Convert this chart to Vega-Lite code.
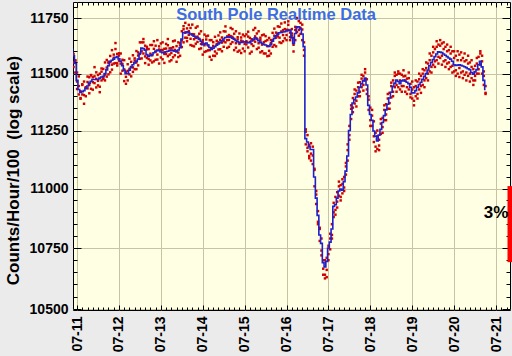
{
"$schema":"https://vega.github.io/schema/vega-lite/v6.json",
"width":437,"height":308,
"autosize":"none",
"padding":{"left":73,"top":2,"right":2,"bottom":46},
"background":"#ebebeb",
"config":{"font":"Liberation Sans","view":{"fill":"#ffffe3","stroke":"#000000","strokeWidth":1},
 "axis":{"domain":false,"grid":false,"tickColor":"#000000","labelColor":"#000000","titleColor":"#000000","labelFont":"Liberation Sans","labelFontWeight":"bold","labelFontSize":14,"titleFont":"Liberation Sans"}},
"data":{"values":[
{"h":-3,"v":11610,"a":11632,"b":11592,"e":11660},
{"h":-2,"v":11580,"a":11550,"b":11588,"e":11530},
{"h":-1,"v":11545,"a":11557,"b":11505,"e":11560},
{"h":0,"v":11470,"a":11505,"b":11465,"e":11432},
{"h":1,"v":11430,"a":11408,"b":11445,"e":11488},
{"h":2,"v":11417,"a":11422,"b":11389,"e":11392},
{"h":3,"v":11420,"a":11408,"b":11450,"e":11453},
{"h":4,"v":11425,"a":11465,"b":11405,"e":11367},
{"h":5,"v":11435,"a":11400,"b":11437,"e":11440},
{"h":6,"v":11445,"a":11463,"b":11435,"e":11487},
{"h":7,"v":11458,"a":11450,"b":11484,"e":11413},
{"h":8,"v":11466,"a":11494,"b":11433,"e":11493},
{"h":9,"v":11474,"a":11429,"b":11484,"e":11462},
{"h":10,"v":11474,"a":11488,"b":11458,"e":11529},
{"h":11,"v":11474,"a":11477,"b":11506,"e":11439},
{"h":12,"v":11474,"a":11448,"b":11468,"e":11494},
{"h":13,"v":11480,"a":11500,"b":11442,"e":11418},
{"h":14,"v":11485,"a":11470,"b":11509,"e":11523},
{"h":15,"v":11488,"a":11521,"b":11476,"e":11480},
{"h":16,"v":11500,"a":11496,"b":11470,"e":11550},
{"h":17,"v":11517,"a":11527,"b":11561,"e":11487},
{"h":18,"v":11535,"a":11497,"b":11553,"e":11547},
{"h":19,"v":11554,"a":11579,"b":11552,"e":11506},
{"h":20,"v":11560,"a":11540,"b":11518,"e":11605},
{"h":21,"v":11565,"a":11571,"b":11585,"e":11545},
{"h":22,"v":11572,"a":11610,"b":11547,"e":11637},
{"h":23,"v":11576,"a":11546,"b":11588,"e":11536},
{"h":24,"v":11566,"a":11581,"b":11558,"e":11591},
{"h":25,"v":11555,"a":11545,"b":11590,"e":11500},
{"h":26,"v":11535,"a":11562,"b":11513,"e":11543},
{"h":27,"v":11515,"a":11467,"b":11519,"e":11560},
{"h":28,"v":11500,"a":11508,"b":11486,"e":11455},
{"h":29,"v":11500,"a":11542,"b":11470,"e":11512},
{"h":30,"v":11515,"a":11497,"b":11521,"e":11567},
{"h":31,"v":11528,"a":11530,"b":11553,"e":11488},
{"h":32,"v":11540,"a":11508,"b":11528,"e":11582},
{"h":33,"v":11548,"a":11568,"b":11558,"e":11520},
{"h":34,"v":11556,"a":11550,"b":11520,"e":11601},
{"h":35,"v":11565,"a":11595,"b":11581,"e":11537},
{"h":36,"v":11590,"a":11566,"b":11588,"e":11640},
{"h":37,"v":11614,"a":11640,"b":11600,"e":11568},
{"h":38,"v":11612,"a":11590,"b":11640,"e":11655},
{"h":39,"v":11605,"a":11625,"b":11577,"e":11547},
{"h":40,"v":11585,"a":11570,"b":11609,"e":11620},
{"h":41,"v":11577,"a":11610,"b":11565,"e":11540},
{"h":42,"v":11581,"a":11589,"b":11559,"e":11628},
{"h":43,"v":11585,"a":11582,"b":11628,"e":11550},
{"h":44,"v":11593,"a":11555,"b":11611,"e":11645},
{"h":45,"v":11600,"a":11625,"b":11598,"e":11562},
{"h":46,"v":11605,"a":11585,"b":11563,"e":11650},
{"h":47,"v":11602,"a":11608,"b":11622,"e":11545},
{"h":48,"v":11597,"a":11635,"b":11572,"e":11605},
{"h":49,"v":11594,"a":11564,"b":11606,"e":11640},
{"h":50,"v":11596,"a":11611,"b":11588,"e":11548},
{"h":51,"v":11598,"a":11588,"b":11633,"e":11612},
{"h":52,"v":11600,"a":11627,"b":11578,"e":11655},
{"h":53,"v":11603,"a":11555,"b":11613,"e":11585},
{"h":54,"v":11606,"a":11614,"b":11592,"e":11560},
{"h":55,"v":11603,"a":11645,"b":11573,"e":11618},
{"h":56,"v":11600,"a":11582,"b":11606,"e":11648},
{"h":57,"v":11598,"a":11600,"b":11623,"e":11553},
{"h":58,"v":11606,"a":11574,"b":11594,"e":11640},
{"h":59,"v":11616,"a":11636,"b":11626,"e":11580},
{"h":60,"v":11655,"a":11649,"b":11619,"e":11690},
{"h":61,"v":11683,"a":11713,"b":11699,"e":11640},
{"h":62,"v":11685,"a":11661,"b":11683,"e":11728},
{"h":63,"v":11688,"a":11703,"b":11660,"e":11645},
{"h":64,"v":11684,"a":11674,"b":11719,"e":11690},
{"h":65,"v":11678,"a":11705,"b":11656,"e":11628},
{"h":66,"v":11673,"a":11625,"b":11677,"e":11720},
{"h":67,"v":11668,"a":11676,"b":11654,"e":11622},
{"h":68,"v":11664,"a":11706,"b":11634,"e":11660},
{"h":69,"v":11660,"a":11642,"b":11666,"e":11712},
{"h":70,"v":11654,"a":11656,"b":11679,"e":11610},
{"h":71,"v":11645,"a":11613,"b":11633,"e":11690},
{"h":72,"v":11630,"a":11650,"b":11640,"e":11585},
{"h":73,"v":11633,"a":11627,"b":11597,"e":11675},
{"h":74,"v":11637,"a":11667,"b":11653,"e":11600},
{"h":75,"v":11628,"a":11604,"b":11626,"e":11670},
{"h":76,"v":11617,"a":11650,"b":11605,"e":11575},
{"h":77,"v":11608,"a":11562,"b":11614,"e":11650},
{"h":78,"v":11614,"a":11624,"b":11641,"e":11580},
{"h":79,"v":11621,"a":11599,"b":11579,"e":11665},
{"h":80,"v":11627,"a":11633,"b":11647,"e":11590},
{"h":81,"v":11633,"a":11671,"b":11608,"e":11640},
{"h":82,"v":11639,"a":11609,"b":11651,"e":11685},
{"h":83,"v":11647,"a":11662,"b":11639,"e":11600},
{"h":84,"v":11655,"a":11645,"b":11690,"e":11620},
{"h":85,"v":11662,"a":11689,"b":11640,"e":11712},
{"h":86,"v":11663,"a":11615,"b":11667,"e":11650},
{"h":87,"v":11665,"a":11673,"b":11651,"e":11620},
{"h":88,"v":11663,"a":11705,"b":11633,"e":11668},
{"h":89,"v":11659,"a":11641,"b":11665,"e":11700},
{"h":90,"v":11654,"a":11656,"b":11679,"e":11605},
{"h":91,"v":11648,"a":11616,"b":11636,"e":11690},
{"h":92,"v":11643,"a":11663,"b":11653,"e":11598},
{"h":93,"v":11639,"a":11633,"b":11603,"e":11680},
{"h":94,"v":11640,"a":11662,"b":11648,"e":11592},
{"h":95,"v":11642,"a":11612,"b":11644,"e":11675},
{"h":96,"v":11643,"a":11668,"b":11633,"e":11600},
{"h":97,"v":11641,"a":11631,"b":11676,"e":11645},
{"h":98,"v":11639,"a":11666,"b":11617,"e":11688},
{"h":99,"v":11638,"a":11590,"b":11642,"e":11660},
{"h":100,"v":11646,"a":11654,"b":11632,"e":11598},
{"h":101,"v":11654,"a":11696,"b":11624,"e":11650},
{"h":102,"v":11661,"a":11643,"b":11667,"e":11705},
{"h":103,"v":11655,"a":11657,"b":11680,"e":11610},
{"h":104,"v":11648,"a":11616,"b":11636,"e":11690},
{"h":105,"v":11641,"a":11661,"b":11651,"e":11595},
{"h":106,"v":11636,"a":11630,"b":11600,"e":11672},
{"h":107,"v":11631,"a":11641,"b":11675,"e":11590},
{"h":108,"v":11628,"a":11590,"b":11646,"e":11668},
{"h":109,"v":11625,"a":11650,"b":11623,"e":11578},
{"h":110,"v":11622,"a":11602,"b":11580,"e":11660},
{"h":111,"v":11630,"a":11636,"b":11650,"e":11590},
{"h":112,"v":11645,"a":11683,"b":11620,"e":11650},
{"h":113,"v":11658,"a":11628,"b":11670,"e":11702},
{"h":114,"v":11669,"a":11684,"b":11661,"e":11622},
{"h":115,"v":11677,"a":11667,"b":11712,"e":11680},
{"h":116,"v":11683,"a":11710,"b":11661,"e":11640},
{"h":117,"v":11685,"a":11637,"b":11689,"e":11725},
{"h":118,"v":11687,"a":11695,"b":11673,"e":11645},
{"h":119,"v":11688,"a":11730,"b":11658,"e":11700},
{"h":120,"v":11691,"a":11673,"b":11697,"e":11650},
{"h":121,"v":11694,"a":11696,"b":11719,"e":11735},
{"h":122,"v":11696,"a":11664,"b":11684,"e":11650},
{"h":123,"v":11660,"a":11680,"b":11670,"e":11700},
{"h":124,"v":11635,"a":11629,"b":11599,"e":11660},
{"h":125,"v":11680,"a":11710,"b":11696,"e":11650},
{"h":126,"v":11710,"a":11686,"b":11708,"e":11750},
{"h":127,"v":11710,"a":11736,"b":11696,"e":11670},
{"h":128,"v":11700,"a":11678,"b":11728,"e":11705},
{"h":129,"v":11678,"a":11698,"b":11650,"e":11720},
{"h":130,"v":11621,"a":11606,"b":11640,"e":11580},
{"h":131,"v":11215,"a":11190,"b":11245,"e":11255},
{"h":132,"v":11200,"a":11175,"b":11160,"e":11230},
{"h":133,"v":11180,"a":11140,"b":11188,"e":11130},
{"h":134,"v":11168,"a":11150,"b":11120,"e":11195},
{"h":135,"v":11168,"a":11142,"b":11180,"e":11105},
{"h":136,"v":11050,"a":11010,"b":11085,"e":11080},
{"h":137,"v":10960,"a":10935,"b":10975,"e":10990},
{"h":138,"v":10887,"a":10860,"b":10905,"e":10850},
{"h":139,"v":10805,"a":10780,"b":10830,"e":10835},
{"h":140,"v":10770,"a":10740,"b":10720,"e":10790},
{"h":141,"v":10690,"a":10665,"b":10700,"e":10640},
{"h":142,"v":10672,"a":10640,"b":10625,"e":10700},
{"h":143,"v":10695,"a":10660,"b":10710,"e":10630},
{"h":144,"v":10750,"a":10725,"b":10760,"e":10700},
{"h":145,"v":10775,"a":10790,"b":10745,"e":10810},
{"h":146,"v":10830,"a":10805,"b":10850,"e":10790},
{"h":147,"v":10925,"a":10900,"b":10940,"e":10880},
{"h":148,"v":10932,"a":10910,"b":10890,"e":10965},
{"h":149,"v":10960,"a":10985,"b":10945,"e":10920},
{"h":150,"v":10990,"a":10970,"b":11010,"e":11030},
{"h":151,"v":10998,"a":10965,"b":11015,"e":10950},
{"h":152,"v":10993,"a":11020,"b":10980,"e":11040},
{"h":153,"v":11030,"a":11050,"b":11005,"e":10990},
{"h":154,"v":11075,"a":11095,"b":11060,"e":11110},
{"h":155,"v":11140,"a":11120,"b":11165,"e":11190},
{"h":156,"v":11250,"a":11230,"b":11270,"e":11210},
{"h":157,"v":11320,"a":11345,"b":11300,"e":11360},
{"h":158,"v":11370,"a":11350,"b":11392,"e":11330},
{"h":159,"v":11385,"a":11410,"b":11368,"e":11430},
{"h":160,"v":11397,"a":11380,"b":11425,"e":11355},
{"h":161,"v":11415,"a":11440,"b":11400,"e":11460},
{"h":162,"v":11440,"a":11420,"b":11462,"e":11400},
{"h":163,"v":11455,"a":11478,"b":11440,"e":11495},
{"h":164,"v":11468,"a":11450,"b":11490,"e":11425},
{"h":165,"v":11480,"a":11505,"b":11470,"e":11520},
{"h":166,"v":11450,"a":11475,"b":11430,"e":11410},
{"h":167,"v":11360,"a":11385,"b":11340,"e":11400},
{"h":168,"v":11320,"a":11295,"b":11350,"e":11270},
{"h":169,"v":11295,"a":11270,"b":11315,"e":11340},
{"h":170,"v":11248,"a":11225,"b":11200,"e":11290},
{"h":171,"v":11225,"a":11180,"b":11240,"e":11160},
{"h":172,"v":11205,"a":11170,"b":11225,"e":11250},
{"h":173,"v":11230,"a":11210,"b":11165,"e":11185},
{"h":174,"v":11255,"a":11280,"b":11235,"e":11300},
{"h":175,"v":11285,"a":11265,"b":11305,"e":11240},
{"h":176,"v":11315,"a":11340,"b":11295,"e":11360},
{"h":177,"v":11340,"a":11320,"b":11365,"e":11295},
{"h":178,"v":11365,"a":11390,"b":11345,"e":11410},
{"h":179,"v":11392,"a":11370,"b":11415,"e":11345},
{"h":180,"v":11418,"a":11445,"b":11395,"e":11460},
{"h":181,"v":11443,"a":11470,"b":11420,"e":11400},
{"h":182,"v":11458,"a":11490,"b":11440,"e":11505},
{"h":183,"v":11472,"a":11450,"b":11495,"e":11420},
{"h":184,"v":11465,"a":11500,"b":11440,"e":11510},
{"h":185,"v":11456,"a":11430,"b":11470,"e":11500},
{"h":186,"v":11468,"a":11495,"b":11445,"e":11420},
{"h":187,"v":11472,"a":11445,"b":11488,"e":11515},
{"h":188,"v":11466,"a":11490,"b":11420,"e":11470},
{"h":189,"v":11462,"a":11440,"b":11478,"e":11410},
{"h":190,"v":11455,"a":11480,"b":11430,"e":11505},
{"h":191,"v":11440,"a":11410,"b":11455,"e":11395},
{"h":192,"v":11415,"a":11390,"b":11430,"e":11465},
{"h":193,"v":11415,"a":11440,"b":11360,"e":11380},
{"h":194,"v":11425,"a":11400,"b":11445,"e":11470},
{"h":195,"v":11440,"a":11465,"b":11410,"e":11390},
{"h":196,"v":11452,"a":11430,"b":11475,"e":11500},
{"h":197,"v":11462,"a":11490,"b":11445,"e":11415},
{"h":198,"v":11475,"a":11450,"b":11500,"e":11520},
{"h":199,"v":11488,"a":11515,"b":11470,"e":11440},
{"h":200,"v":11500,"a":11480,"b":11525,"e":11550},
{"h":201,"v":11516,"a":11545,"b":11500,"e":11470},
{"h":202,"v":11535,"a":11510,"b":11560,"e":11590},
{"h":203,"v":11550,"a":11580,"b":11530,"e":11505},
{"h":204,"v":11563,"a":11540,"b":11595,"e":11620},
{"h":205,"v":11576,"a":11610,"b":11555,"e":11530},
{"h":206,"v":11588,"a":11560,"b":11620,"e":11645},
{"h":207,"v":11598,"a":11630,"b":11575,"e":11545},
{"h":208,"v":11596,"a":11570,"b":11625,"e":11650},
{"h":209,"v":11594,"a":11635,"b":11580,"e":11540},
{"h":210,"v":11588,"a":11555,"b":11610,"e":11640},
{"h":211,"v":11582,"a":11620,"b":11560,"e":11530},
{"h":212,"v":11576,"a":11545,"b":11600,"e":11630},
{"h":213,"v":11570,"a":11605,"b":11550,"e":11520},
{"h":214,"v":11565,"a":11530,"b":11590,"e":11620},
{"h":215,"v":11555,"a":11600,"b":11535,"e":11505},
{"h":216,"v":11540,"a":11510,"b":11570,"e":11600},
{"h":217,"v":11537,"a":11580,"b":11515,"e":11490},
{"h":218,"v":11538,"a":11500,"b":11560,"e":11600},
{"h":219,"v":11540,"a":11585,"b":11525,"e":11485},
{"h":220,"v":11537,"a":11505,"b":11560,"e":11595},
{"h":221,"v":11534,"a":11570,"b":11510,"e":11480},
{"h":222,"v":11531,"a":11495,"b":11555,"e":11590},
{"h":223,"v":11527,"a":11560,"b":11505,"e":11470},
{"h":224,"v":11522,"a":11490,"b":11545,"e":11580},
{"h":225,"v":11518,"a":11550,"b":11500,"e":11465},
{"h":226,"v":11505,"a":11480,"b":11530,"e":11560},
{"h":227,"v":11498,"a":11520,"b":11470,"e":11450},
{"h":228,"v":11508,"a":11490,"b":11535,"e":11470},
{"h":229,"v":11518,"a":11545,"b":11500,"e":11570},
{"h":230,"v":11540,"a":11520,"b":11575,"e":11500},
{"h":231,"v":11555,"a":11590,"b":11540,"e":11600},
{"h":232,"v":11530,"a":11500,"b":11555,"e":11580},
{"h":233,"v":11470,"a":11490,"b":11450,"e":11510},
{"h":234,"v":11430,"a":11415,"b":11445,"e":11410}
]},
"layer":[
{"transform":[{"fold":["a","b","e"],"as":["k","c"]}],
 "mark":{"type":"square","size":6,"color":"#d00000","opacity":1,"clip":true},
 "encoding":{
  "x":{"field":"h","type":"quantitative","scale":{"domain":[-2.33,248],"nice":false,"zero":false},
   "axis":{"orient":"bottom","values":[0,24,48,72,96,120,144,168,192,216,240],"labelExpr":"'07-' + (11 + datum.value/24)",
    "labelAngle":270,"labelAlign":"right","labelBaseline":"middle","grid":true,"gridColor":"#c9c3a6","tickSize":-5,"labelPadding":11,"title":null,"labelFlush":false,"labelOverlap":false}},
  "y":{"field":"c","type":"quantitative","scale":{"type":"log","domain":[10496,11823],"nice":false,"zero":false},
   "axis":{"orient":"left","values":[10500,10750,11000,11250,11500,11750],"format":"d","grid":true,"gridColor":"#c9c3a6","tickSize":-8,"labelPadding":13,
    "title":"Counts/Hour/100\u00a0 (log scale)","titleFontSize":17,"titleFontWeight":"bold","titleX":-60,"titleY":168,"titleAngle":270,"titleAlign":"center","titleBaseline":"middle"}}}},
{"mark":{"type":"line","interpolate":"step","color":"#1f1fcc","strokeWidth":1.6,"clip":true},
 "encoding":{
  "x":{"field":"h","type":"quantitative","scale":{"domain":[-2.33,248],"nice":false,"zero":false},"axis":{"orient":"bottom","values":[3,6,9,12,15,18,21,27,30,33,36,39,42,45,51,54,57,60,63,66,69,75,78,81,84,87,90,93,99,102,105,108,111,114,117,123,126,129,132,135,138,141,147,150,153,156,159,162,165,171,174,177,180,183,186,189,195,198,201,204,207,210,213,219,222,225,228,231,234,237,243,246],"labels":false,"tickSize":-3,"title":null}},
  "y":{"field":"v","type":"quantitative","scale":{"type":"log","domain":[10496,11823],"nice":false,"zero":false},"axis":{"orient":"left","values":[10550,10600,10650,10700,10800,10850,10900,10950,11050,11100,11150,11200,11300,11350,11400,11450,11550,11600,11650,11700,11800],"labels":false,"tickSize":-4,"title":null}}}},
{"data":{"values":[{"h":248,"lo":10692,"hi":11011}]},
 "mark":{"type":"rule","color":"#ff0000","strokeWidth":5},
 "encoding":{
  "x":{"field":"h","type":"quantitative","scale":{"domain":[-2.33,248],"nice":false,"zero":false},"axis":{"orient":"top","values":[0,24,48,72,96,120,144,168,192,216,240],"labels":false,"tickSize":-5,"title":null}},
  "y":{"field":"lo","type":"quantitative","scale":{"type":"log","domain":[10496,11823],"nice":false,"zero":false},"axis":{"orient":"right","values":[10500,10750,11000,11250,11500,11750],"labels":false,"tickSize":-8,"title":null}},
  "y2":{"field":"hi"}}},
{"data":{"values":[{"h":247,"v":10897,"s":"3%"}]},
 "mark":{"type":"text","align":"right","baseline":"middle","fontSize":17,"fontWeight":"bold","color":"#000000","font":"Liberation Sans"},
 "encoding":{
  "x":{"field":"h","type":"quantitative","scale":{"domain":[-2.33,248],"nice":false,"zero":false},"axis":{"orient":"top","values":[3,6,9,12,15,18,21,27,30,33,36,39,42,45,51,54,57,60,63,66,69,75,78,81,84,87,90,93,99,102,105,108,111,114,117,123,126,129,132,135,138,141,147,150,153,156,159,162,165,171,174,177,180,183,186,189,195,198,201,204,207,210,213,219,222,225,228,231,234,237,243,246],"labels":false,"tickSize":-3,"title":null}},
  "y":{"field":"v","type":"quantitative","scale":{"type":"log","domain":[10496,11823],"nice":false,"zero":false},"axis":{"orient":"right","values":[10550,10600,10650,10700,10800,10850,10900,10950,11050,11100,11150,11200,11300,11350,11400,11450,11550,11600,11650,11700,11800],"labels":false,"tickSize":-4,"title":null}},
  "text":{"field":"s"}}},
{"data":{"values":[{"h":114,"v":11762,"s":"South Pole Realtime Data"}]},
 "mark":{"type":"text","align":"center","baseline":"middle","fontSize":16.5,"fontWeight":"bold","color":"#3d6de6","font":"Liberation Sans"},
 "encoding":{
  "x":{"field":"h","type":"quantitative","scale":{"domain":[-2.33,248],"nice":false,"zero":false},"axis":null},
  "y":{"field":"v","type":"quantitative","scale":{"type":"log","domain":[10496,11823],"nice":false,"zero":false},"axis":null},
  "text":{"field":"s"}}}
],
"resolve":{"axis":{"x":"independent","y":"independent"}}
}
